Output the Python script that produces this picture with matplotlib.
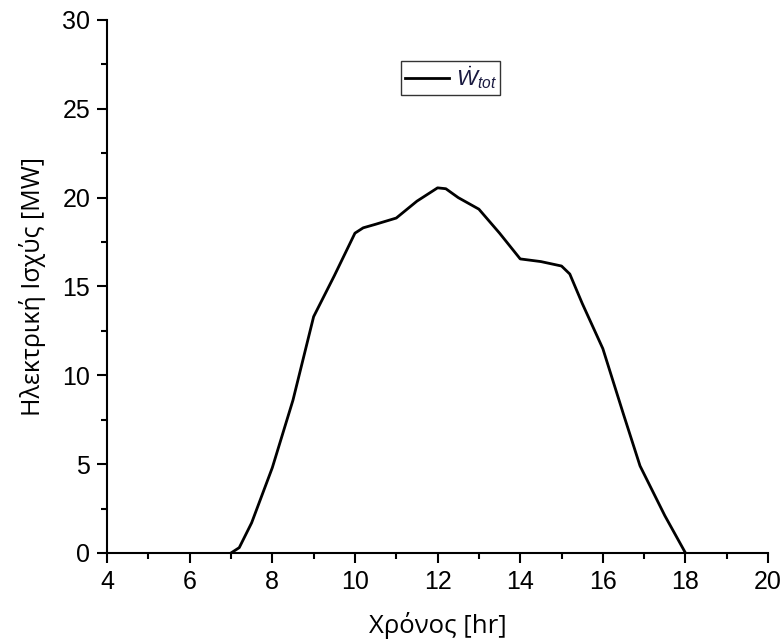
import matplotlib
matplotlib.use("Agg")
import matplotlib.pyplot as plt
from matplotlib.ticker import MultipleLocator

plt.rcParams["mathtext.fontset"] = "custom"
plt.rcParams["mathtext.rm"] = "Liberation Sans"
plt.rcParams["mathtext.it"] = "Liberation Sans:italic"

# Hourly electric power output over the day
hours = [7.0, 7.2, 7.5, 8.0, 8.5, 9.0, 9.5, 10.0, 10.2, 10.5, 11.0, 11.5, 12.0,
         12.2, 12.5, 13.0, 13.5, 14.0, 14.5, 15.0, 15.2, 15.5, 16.0, 16.5,
         16.9, 17.5, 18.0]
power_mw = [0.0, 0.3, 1.7, 4.8, 8.6, 13.3, 15.6, 18.0, 18.3, 18.5, 18.85, 19.8,
            20.55, 20.5, 20.0, 19.35, 18.0, 16.55, 16.4, 16.15, 15.7, 14.05,
            11.5, 7.8, 4.9, 2.1, 0.0]

x_ticks = [4, 6, 8, 10, 12, 14, 16, 18, 20]
y_ticks = [0, 5, 10, 15, 20, 25, 30]

fig = plt.figure(figsize=(7.83, 6.43), dpi=100)
ax = fig.add_axes([0.1367, 0.14, 0.8443, 0.829])

ax.plot(hours, power_mw, color="black", lw=2.0, label=r"$\dot{W}_{tot}$",
        solid_joinstyle="round")

ax.set_xlim(4, 20)
ax.set_ylim(0, 30)
ax.set_xticks(x_ticks)
ax.set_yticks(y_ticks)
ax.xaxis.set_minor_locator(MultipleLocator(1))
ax.yaxis.set_minor_locator(MultipleLocator(2.5))

for side in ("top", "right"):
    ax.spines[side].set_visible(False)
for side in ("left", "bottom"):
    ax.spines[side].set_linewidth(1.5)

ax.tick_params(which="major", direction="out", length=7, width=1.5,
               labelsize=18, pad=5)
ax.tick_params(which="minor", direction="out", length=4, width=1.5)
for lbl in ax.get_xticklabels() + ax.get_yticklabels():
    lbl.set_family("Liberation Sans")

ax.set_xlabel("Χρόνος [hr]", fontsize=18.5, family="Open Sans", labelpad=13)
ax.set_ylabel("Ηλεκτρική Ισχύς [MW]", fontsize=18, family="Open Sans", labelpad=12)

leg = ax.legend(loc="center", bbox_to_anchor=(0.52, 0.891), frameon=True,
                fancybox=False, edgecolor="black", fontsize=16,
                handlelength=2.0, borderpad=0.15, handletextpad=0.3)
leg.get_frame().set_linewidth(1.0)
for t in leg.get_texts():
    t.set_color("#1a1a40")

fig.savefig("out.png", dpi=100)
